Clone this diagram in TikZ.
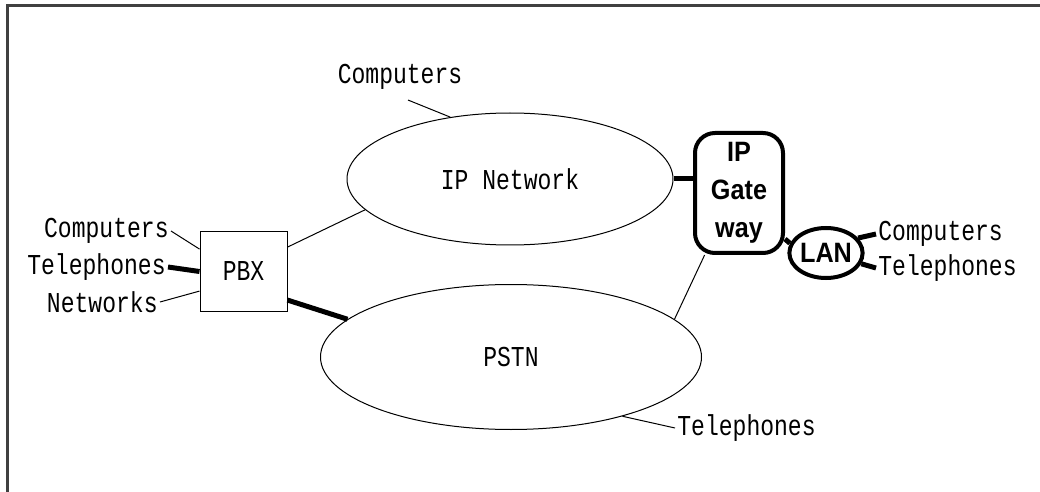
\documentclass[tikz,border=0pt]{standalone}
\usepackage{fontspec}
\setmonofont{Liberation Mono}[FakeStretch=0.8]
\newfontfamily\gwfont{Liberation Sans}[FakeStretch=0.9]
\usetikzlibrary{shapes.geometric}

\tikzset{
  lbl/.style={font=\ttfamily\fontsize{14.4}{16}\selectfont, inner sep=1pt},
  cloud/.style={draw, ellipse, line width=0.5pt, font=\ttfamily\fontsize{14.4}{16}\selectfont},
  pbxbox/.style={draw, rectangle, line width=0.5pt, minimum width=43.5pt, minimum height=39.5pt,
    font=\ttfamily\fontsize{14.4}{16}\selectfont},
  gatebox/.style={draw, rectangle, rounded corners=10pt, line width=2pt, minimum width=44pt,
    minimum height=60pt, align=center, font=\gwfont\bfseries\fontsize{14}{19}\selectfont},
  lanbox/.style={draw, ellipse, line width=2pt, minimum width=36.5pt, minimum height=25pt,
    inner sep=0pt, font=\gwfont\bfseries\fontsize{14}{15}\selectfont},
  link/.style={line width=0.5pt},
  trunk/.style={line width=2.5pt}
}

\begin{document}
\begin{tikzpicture}[x=0.5pt, y=-0.5pt]
   \useasboundingbox (0,0) rectangle (1040,492);
   \draw[line width=1.5pt, color=black!75] (7,492) -- (7,6) -- (1040,6);

   \node[cloud, minimum width=163pt, minimum height=66pt] (ipnet) at (510,179) {IP Network};
   \node[cloud, minimum width=190.5pt, minimum height=72.5pt] (pstn) at (511,357) {PSTN};
   \node[pbxbox] (pbx) at (243.5,271.5) {PBX};
   \node[gatebox] (gw) at (739,193) {IP\\Gate\\way};
   \node[lanbox] (lan) at (826,253) {LAN};

   \node[lbl, anchor=east] (pcomp) at (171,231) {Computers};
   \node[lbl, anchor=east] (ptel) at (168,267) {Telephones};
   \node[lbl, anchor=east] (pnet) at (160,302) {Networks};
   \node[lbl] (icomp) at (400,77) {Computers};
   \node[lbl, anchor=west] (stel) at (675,428) {Telephones};
   \node[lbl, anchor=west] (lcomp) at (876,234) {Computers};
   \node[lbl, anchor=west] (ltel) at (876,268) {Telephones};

   \draw[link] (pcomp.east) -- (pbx.153);
   \draw[trunk] (ptel.east) -- (pbx.west);
   \draw[link] (pnet.east) -- (pbx.204);
   \draw[link] (pbx.29) -- (ipnet.192);
   \draw[trunk] (pbx.327) -- (pstn.167);
   \draw[link] ([xshift=4pt,yshift=-4pt]icomp.south) -- (ipnet.134.5);
   \draw[link] (stel.west) -- (pstn.332);
   \draw[trunk] (ipnet.east) -- (ipnet.east -| gw.west);
   \draw[link] (pstn.13) -- (gw.241);
   \draw[trunk] (gw.315) -- (lan.165);
   \draw[trunk] (lan.25) -- (lcomp.west);
   \draw[trunk] (lan.343) -- (ltel.west);
\end{tikzpicture}
\end{document}
